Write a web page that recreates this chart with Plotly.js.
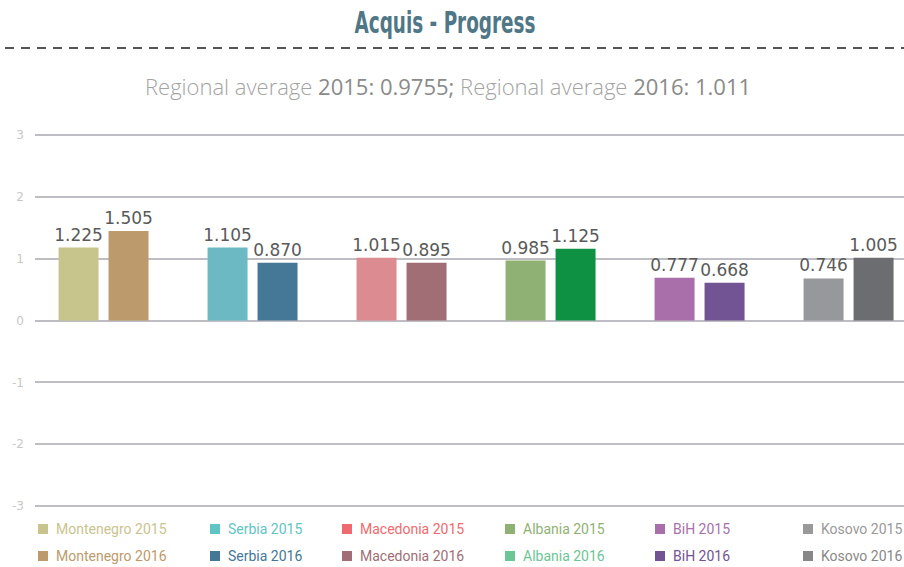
<!DOCTYPE html>
<html>
<head>
<meta charset="utf-8">
<script src="https://cdn.plot.ly/plotly-3.0.1.min.js"></script>
<style>html,body{margin:0;padding:0;background:#fff;}#chart{width:904px;height:567px;}</style>
</head>
<body>
<div id="chart"></div>
<script>
// ---- data ----
const countries = ['Montenegro', 'Serbia', 'Macedonia', 'Albania', 'BiH', 'Kosovo'];
const years = ['2015', '2016'];
const values2015 = [1.18, 1.18, 1.016, 0.97, 0.69, 0.68];
const values2016 = [1.45, 0.935, 0.935, 1.16, 0.61, 1.016];
const labels2015 = ['1.225', '1.105', '1.015', '0.985', '0.777', '0.746'];
const labels2016 = ['1.505', '0.870', '0.895', '1.125', '0.668', '1.005'];
const yTicks = [-3, -2, -1, 0, 1, 2, 3];
const avg2015 = '0.9755';
const avg2016 = '1.011';

// ---- styles ----
const barColors2015 = ['#c8c58c', '#6cb9c3', '#dc8c90', '#8fb274', '#a86fab', '#97989c'];
const barColors2016 = ['#bd9a6b', '#457796', '#a06e74', '#0e9142', '#725394', '#6c6d71'];
const legColors2015 = ['#c9c48e', '#5fc4c4', '#ef6a6e', '#8fb274', '#a86fab', '#999999'];
const legColors2016 = ['#bd9a6b', '#457796', '#a06e74', '#6cc596', '#725394', '#888888'];

const L = 35, T = 132, B = 509, W = 869;
const px2x = p => (p - L) / W;
const px2y = p => (B - p) / (B - T);

const labelFont = {family: 'DejaVu Sans, Verdana, sans-serif', size: 17, color: '#5a5a5a'};

const traces = [
  {type: 'bar', x: countries, y: values2015, text: labels2015,
   marker: {color: barColors2015}, textposition: 'outside', textfont: labelFont, constraintext: 'none',
   cliponaxis: false, showlegend: false, hoverinfo: 'x+y'},
  {type: 'bar', x: countries, y: values2016, text: labels2016,
   marker: {color: barColors2016}, textposition: 'outside', textfont: labelFont, constraintext: 'none',
   cliponaxis: false, showlegend: false, hoverinfo: 'x+y'}
];

const legX = [38, 210, 342, 505, 655, 803];
const legRows = [529, 556];
const shapes = [
  {type: 'line', xref: 'paper', yref: 'paper', x0: px2x(5), x1: 1, y0: px2y(48), y1: px2y(48),
   line: {color: '#555555', width: 2, dash: '9px,7px'}}
];
const annotations = [
  {xref: 'paper', yref: 'paper', x: px2x(448), y: px2y(86), xanchor: 'center', yanchor: 'middle', showarrow: false,
   text: '<span style="font-weight:300;fill:#a3a3a3">Regional average </span><span style="fill:#8a8a8a">' + years[0] + ': ' + avg2015 +
         ';</span><span style="font-weight:300;fill:#a3a3a3"> Regional average </span><span style="fill:#8a8a8a">' + years[1] + ': ' + avg2016 + '</span>',
   font: {family: 'Open Sans, sans-serif', size: 22, color: '#8a8a8a'}}
];
countries.forEach((c, i) => {
  [0, 1].forEach(r => {
    const col = r === 0 ? legColors2015[i] : legColors2016[i];
    const cy = legRows[r];
    shapes.push({type: 'rect', xref: 'paper', yref: 'paper', x0: px2x(legX[i]), x1: px2x(legX[i] + 10),
      y0: px2y(cy + 5), y1: px2y(cy - 5), fillcolor: col, line: {width: 0}});
    annotations.push({xref: 'paper', yref: 'paper', x: px2x(legX[i] + 16), y: px2y(cy), xanchor: 'left', yanchor: 'middle',
      showarrow: false, text: c + ' ' + years[r], font: {family: 'Roboto, sans-serif', size: 14, color: col}});
  });
});

const layout = {
  width: 904, height: 567,
  margin: {l: L, r: 0, t: T, b: 567 - B, pad: 0},
  paper_bgcolor: '#ffffff', plot_bgcolor: '#ffffff',
  title: {text: 'Acquis - Progress', x: 445 / 904, xref: 'container', xanchor: 'center', y: 1 - 22 / 567, yref: 'container', yanchor: 'middle',
          font: {family: 'DejaVu Sans Condensed, sans-serif', size: 31, weight: 'bold', color: '#4f7786'}},
  barmode: 'group', bargap: 0.329, bargroupgap: 0.2,
  xaxis: {type: 'category', range: [-0.46, 5.372], showticklabels: false, showgrid: false, zeroline: false, showline: false, ticks: '', fixedrange: true},
  yaxis: {range: [-3.05, 3.05], tickvals: yTicks, ticktext: yTicks.map(String), showgrid: true, gridcolor: '#bdbdc3', gridwidth: 2,
          zeroline: true, zerolinecolor: '#bdbdc3', zerolinewidth: 2, showline: false, ticks: '', ticklabelstandoff: 10,
          tickfont: {family: 'DejaVu Sans, sans-serif', size: 12, color: '#c8c8c8'}, fixedrange: true},
  shapes: shapes,
  annotations: annotations,
  showlegend: false
};

Plotly.newPlot('chart', traces, layout, {displayModeBar: false, staticPlot: true}).then(gd => {
  // the reference title uses a very condensed display face: compress the real text horizontally
  const t = gd.querySelector('.gtitle');
  if (t) {
    const bb = t.getBBox();
    const cx = bb.x + bb.width / 2;
    t.setAttribute('transform', 'translate(' + cx + ',0) scale(0.66,1) translate(' + (-cx) + ',0)');
  }
});
</script>
</body>
</html>
